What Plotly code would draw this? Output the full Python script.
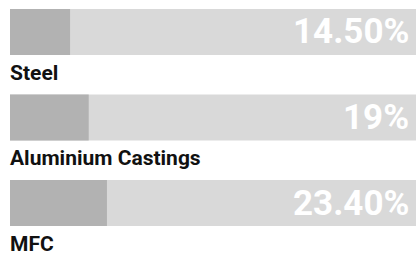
import plotly.graph_objects as go

categories = ["Steel", "Aluminium Castings", "MFC"]
values = [14.5, 19.0, 23.4]
value_labels = ["14.50%", "19%", "23.40%"]
full = [100, 100, 100]

idx = list(range(len(categories)))

fig = go.Figure()
fig.add_trace(go.Bar(x=full, y=idx, orientation="h", width=0.538,
                     marker=dict(color="#d9d9d9", line=dict(width=0)),
                     hoverinfo="skip"))
fig.add_trace(go.Bar(x=values, y=idx, orientation="h", width=0.538,
                     marker=dict(color="#b2b2b2", line=dict(width=0)),
                     hoverinfo="skip"))

for i, (cat, lab) in enumerate(zip(categories, value_labels)):
    fig.add_annotation(x=0, y=i, text=cat, showarrow=False, xanchor="left",
                       yanchor="middle", yshift=-41, xshift=-1, borderpad=0,
                       font=dict(family="Roboto", size=21, color="#111111", weight="bold"))
    fig.add_annotation(x=1, xref="paper", y=i, text=lab, showarrow=False,
                       xanchor="right", yanchor="middle", xshift=-5, yshift=0,
                       font=dict(family="Roboto", size=35, color="#ffffff", weight="bold"))

fig.update_layout(
    width=416, height=255,
    margin=dict(l=10, r=0, t=0, b=0),
    barmode="overlay",
    showlegend=False,
    plot_bgcolor="white", paper_bgcolor="white",
    xaxis=dict(range=[0, 98], visible=False, fixedrange=True),
    yaxis=dict(range=[2.608, -0.374], visible=False, fixedrange=True),
)

fig.write_html("out.html", config={"displayModeBar": False},
               post_script="document.body.style.margin='0';document.body.style.padding='0';")
